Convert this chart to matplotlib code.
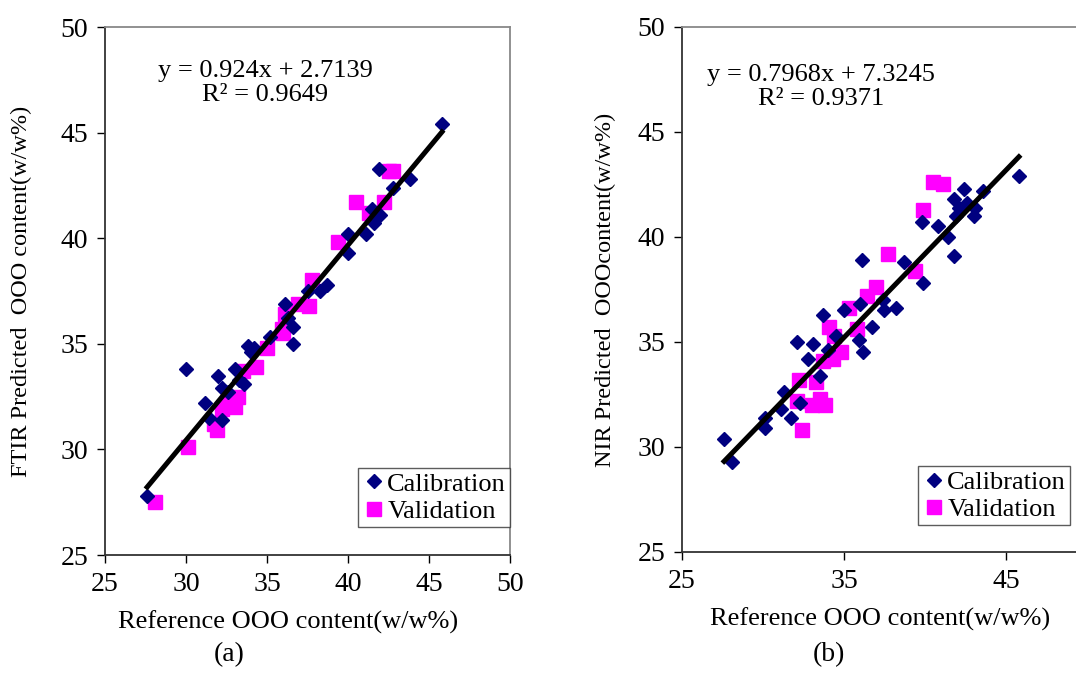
import numpy as np
import matplotlib.pyplot as plt

plt.rcParams['font.family'] = ['Liberation Serif', 'DejaVu Serif']

# (a) FTIR model
ftir_cal_x = [27.6, 30.0, 32.0, 33.8, 33.0, 32.2, 31.2, 31.4, 32.2, 33.6, 34.0, 35.2, 36.1,
              36.6, 36.6, 37.5, 38.3, 38.7, 40.0, 40.0, 41.1, 41.6, 41.5, 42.0, 42.8, 43.8,
              41.9, 45.8, 33.3, 32.6, 34.2, 36.3]
ftir_cal_y = [27.8, 33.8, 33.5, 34.9, 33.8, 32.9, 32.2, 31.5, 31.4, 33.1, 34.6, 35.3, 36.9,
              35.0, 35.8, 37.5, 37.5, 37.8, 39.3, 40.2, 40.2, 40.7, 41.4, 41.1, 42.4, 42.8,
              43.3, 45.4, 33.3, 32.7, 34.8, 36.2]
ftir_val_x = [28.1, 30.1, 31.9, 31.7, 33.0, 32.2, 33.2, 32.6, 33.5, 34.3, 35.0, 35.9, 36.1,
              36.0, 36.9, 37.6, 37.8, 39.4, 40.5, 41.3, 42.2, 42.5, 42.8]
ftir_val_y = [27.5, 30.1, 30.9, 31.2, 32.0, 31.9, 32.5, 32.4, 33.7, 33.9, 34.8, 35.7, 36.4,
              35.5, 36.9, 36.8, 38.0, 39.8, 41.7, 41.2, 41.7, 43.2, 43.2]
ftir_fit = (0.924, 2.7139)
ftir_r2 = 0.9649

# (b) NIR model
nir_cal_x = [27.6, 28.1, 30.1, 30.1, 31.3, 31.1, 31.7, 32.1, 32.8, 33.1, 33.7, 35.0, 33.5,
             32.3, 45.8, 42.4, 43.6, 41.8, 42.6, 43.1, 42.1, 43.0, 41.9, 39.8, 40.8, 41.4,
             41.8, 36.1, 38.7, 39.9, 37.4, 38.2, 37.5, 36.7, 35.9, 36.0, 36.2, 34.0, 34.5]
nir_cal_y = [30.4, 29.3, 31.4, 30.9, 32.6, 31.8, 31.4, 35.0, 34.2, 34.9, 36.3, 36.5, 33.4,
             32.1, 42.9, 42.3, 42.2, 41.8, 41.6, 41.4, 41.4, 41.0, 41.0, 40.7, 40.5, 40.0,
             39.1, 38.9, 38.8, 37.8, 37.0, 36.6, 36.5, 35.7, 35.1, 36.8, 34.5, 34.6, 35.3]
nir_val_x = [32.4, 32.2, 32.1, 33.0, 33.8, 33.5, 33.3, 33.7, 34.3, 34.8, 34.1, 34.4, 35.3,
             35.8, 37.0, 36.4, 37.7, 39.4, 39.9, 40.5, 41.1]
nir_val_y = [30.8, 33.2, 32.2, 32.0, 32.0, 32.3, 33.1, 34.1, 34.2, 34.5, 35.7, 35.3, 36.6,
             35.6, 37.6, 37.2, 39.2, 38.4, 41.3, 42.6, 42.5]
nir_fit = (0.7968, 7.3245)
nir_r2 = 0.9371

navy = '#000080'
magenta = '#FF00FF'

fig = plt.figure(figsize=(10.76, 6.93), dpi=100)
ax1 = fig.add_axes([0.0976, 0.1991, 0.3764, 0.7619])
ax2 = fig.add_axes([0.6338, 0.2035, 0.3764, 0.7576])


def panel(ax, cx, cy, vx, vy, fit, r2, ylabel, xticks, eq_xy, leg_anchor, ylab_x, xlab_x):
    ax.plot(cx, cy, 'D', color=navy, ms=7.5, mec=navy, label='Calibration', zorder=3)
    ax.plot(vx, vy, 's', color=magenta, ms=10.5, mec=magenta, label='Validation', zorder=2)
    allx = np.array(cx + vx)
    xs = np.array([allx.min(), allx.max()])
    ax.plot(xs, fit[0] * xs + fit[1], color='black', lw=3.6, zorder=4)
    ax.set_xlim(25, 50)
    ax.set_ylim(25, 50)
    ax.set_xticks(xticks)
    ax.set_yticks(range(25, 51, 5))
    ax.tick_params(direction='out', length=6, width=1, labelsize=20, pad=6)
    ax.set_xlabel('Reference OOO content(w/w%)', fontsize=19)
    ax.set_ylabel(ylabel, fontsize=17.5)
    ax.xaxis.set_label_coords(xlab_x, -0.106)
    ax.yaxis.set_label_coords(ylab_x, 0.5)
    for s in ['left', 'bottom']:
        ax.spines[s].set_color('#333333')
        ax.spines[s].set_linewidth(1.3)
    for s in ['top', 'right']:
        ax.spines[s].set_color('#888888')
        ax.spines[s].set_linewidth(1.3)
    ax.text(eq_xy[0], eq_xy[1], 'y = %gx + %g\nR² = %g' % (fit[0], fit[1], r2),
            transform=ax.transAxes, ha='center', va='center', fontsize=19,
            linespacing=1.1, multialignment='center')
    leg = ax.legend(loc='lower right', bbox_to_anchor=leg_anchor, fontsize=19,
                    frameon=True, fancybox=False, edgecolor='#333333',
                    handletextpad=0.05, handlelength=0.9, borderpad=0.15,
                    labelspacing=0.15, borderaxespad=0)
    leg.get_frame().set_linewidth(1.0)


panel(ax1, ftir_cal_x, ftir_cal_y, ftir_val_x, ftir_val_y, ftir_fit, ftir_r2,
      'FTIR Predicted  OOO content(w/w%)', range(25, 51, 5), (0.395, 0.894), (1.0, 0.053),
      -0.18, 0.452)
panel(ax2, nir_cal_x, nir_cal_y, nir_val_x, nir_val_y, nir_fit, nir_r2,
      'NIR Predicted  OOOcontent(w/w%)', [25, 35, 45], (0.343, 0.886), (0.958, 0.051),
      -0.163, 0.489)

fig.text(229 / 1076, 1 - 655 / 693, '(a)', ha='center', va='center', fontsize=20)
fig.text(829 / 1076, 1 - 655 / 693, '(b)', ha='center', va='center', fontsize=20)

fig.savefig('out.png', dpi=100)
